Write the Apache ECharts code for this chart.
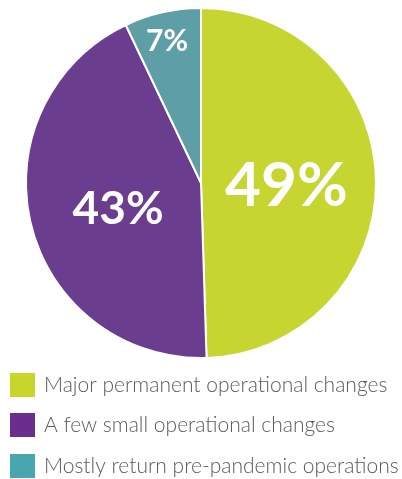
<!DOCTYPE html>
<html><head><meta charset="utf-8">
<script src="https://cdn.jsdelivr.net/npm/echarts@6/dist/echarts.min.js"></script>
<style>html,body{margin:0;padding:0;background:#fff}#c{width:402px;height:479px}</style>
</head><body><div id="c"></div>
<script>
const categories = ["Major permanent operational changes", "A few small operational changes", "Mostly return pre-pandemic operations"];
const values = [49, 43, 7];
const sliceColors = ["#C6D530", "#6B3D8E", "#5E9EA6"];
const legendColors = ["#C8D52A", "#6A2E8E", "#47A6AE"];

const labelSizes = [62, 46, 30];
const labelShift = [[-5, 4], [5, 5], [-14, -53]];
const legendTops = [371, 411, 452];

const chart = echarts.init(document.getElementById('c'), null, {renderer: 'canvas'});
chart.setOption({
  animation: false,
  legend: categories.map((c, i) => ({
    orient: 'vertical', left: 8, top: legendTops[i], padding: 0,
    itemWidth: 27, itemHeight: 26,
    icon: 'rect',
    textStyle: {fontFamily: 'Lato', fontSize: 21, fontWeight: 300, color: '#5a5a5a', padding: [0, 0, 0, 3]},
    data: [{name: c, itemStyle: {color: legendColors[i]}}]
  })),
  series: [{
    type: 'pie',
    center: [201, 183], radius: [0, 175],
    startAngle: 90, clockwise: true,
    itemStyle: {borderColor: '#fff', borderWidth: 2},
    label: {
      position: 'inside', color: '#fff', fontFamily: 'Lato', fontWeight: 'bold',
      formatter: p => p.value + '%'
    },
    labelLayout: p => ({dx: labelShift[p.dataIndex][0], dy: labelShift[p.dataIndex][1]}),
    data: categories.map((c, i) => ({
      name: c, value: values[i],
      itemStyle: {color: sliceColors[i]},
      label: {fontSize: labelSizes[i]}
    }))
  }]
});
</script></body></html>
